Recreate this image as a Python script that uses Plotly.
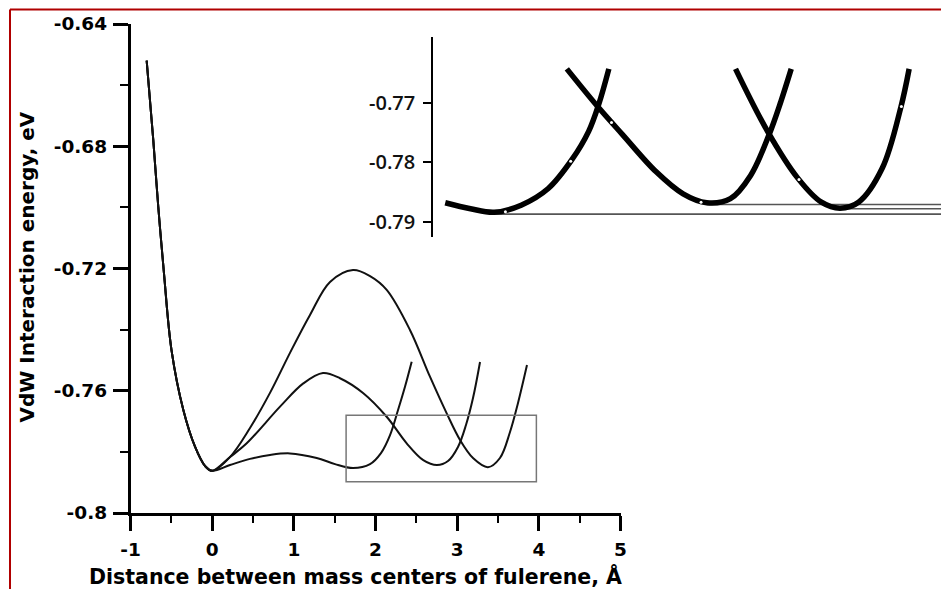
import plotly.graph_objects as go

# ---------------- main chart data ----------------
left_x = [-0.802, -0.721, -0.660, -0.590, -0.498, -0.353, -0.210, -0.088, 0.0]
left_y = [-0.6520, -0.6780, -0.6998, -0.7216, -0.7467, -0.7663, -0.7783, -0.7846, -0.7862]

a_x = [0.218, 0.463, 0.708, 0.953, 1.198, 1.443, 1.725, 1.933, 2.137, 2.422, 2.667, 2.872,
       3.035, 3.197, 3.377, 3.524, 3.647, 3.745, 3.855]
a_y = [-0.7817, -0.7722, -0.7607, -0.7476, -0.7352, -0.7244, -0.7205, -0.7225, -0.7270, -0.7401,
       -0.7554, -0.7674, -0.7761, -0.7821, -0.7850, -0.7820, -0.7735, -0.7640, -0.7516]

b_x = [0.218, 0.423, 0.831, 1.116, 1.357, 1.565, 1.851, 2.137, 2.382, 2.585, 2.753, 2.888,
       3.010, 3.108, 3.194, 3.280]
b_y = [-0.7817, -0.7772, -0.7652, -0.7576, -0.7542, -0.7559, -0.7608, -0.7685, -0.7772, -0.7827,
       -0.7843, -0.7830, -0.7784, -0.7712, -0.7624, -0.7506]

c_x = [0.218, 0.463, 0.708, 0.953, 1.280, 1.504, 1.725, 1.933, 2.067, 2.178, 2.276, 2.361, 2.443]
c_y = [-0.7843, -0.7823, -0.7810, -0.7805, -0.7820, -0.7840, -0.7853, -0.7840, -0.7804, -0.7745,
       -0.7663, -0.7587, -0.7505]

zoom_box_x = [1.64, 3.97]
zoom_box_y = [-0.7898, -0.7680]

x_tick_vals = [-1, 0, 1, 2, 3, 4, 5]
x_tick_text = ["-1", "0", "1", "2", "3", "4", "5"]
y_tick_vals = [-0.8, -0.76, -0.72, -0.68, -0.64]
y_tick_text = ["-0.8", "-0.76", "-0.72", "-0.68", "-0.64"]

# ---------------- inset data ----------------
inset_c_x = [1.468, 1.592, 1.708, 1.840, 1.973, 2.088, 2.171, 2.221, 2.270]
inset_c_y = [-0.7868, -0.7878, -0.7884, -0.7872, -0.7844, -0.7796, -0.7748, -0.7702, -0.7643]

inset_b_x = [2.064, 2.212, 2.336, 2.502, 2.634, 2.750, 2.866, 2.965, 3.056, 3.114, 3.164]
inset_b_y = [-0.7643, -0.7705, -0.7753, -0.7816, -0.7853, -0.7868, -0.7861, -0.7822, -0.7753,
             -0.7697, -0.7643]

inset_a_x = [2.891, 3.048, 3.197, 3.312, 3.403, 3.494, 3.610, 3.701, 3.742]
inset_a_y = [-0.7643, -0.7748, -0.7827, -0.7867, -0.7877, -0.7867, -0.7810, -0.7708, -0.7643]

inset_level_start = [1.708, 2.750, 3.403]
inset_level_y = [-0.7887, -0.7871, -0.7878]
inset_level_end = 4.3

inset_dot_x = [1.763, 2.083, 2.283, 2.722, 3.202, 3.704]
inset_dot_y = [-0.7883, -0.7798, -0.7733, -0.7867, -0.7829, -0.7706]

inset_tick_vals = [-0.79, -0.78, -0.77]
inset_tick_text = ["-0.79", "-0.78", "-0.77"]

# page body margin offsets the figure by 8px; figure sized to fill the rest of the window
OFF = 8
W, H = 949 - OFF, 589 - OFF


def px(xp):
    return (xp - OFF) / W


def py(yp):
    return 1 - (yp - OFF) / H


fig = go.Figure()

main_line = dict(color="#111111", width=2, shape="spline", smoothing=1.0)
for xs, ys in [(a_x, a_y), (b_x, b_y), (c_x, c_y)]:
    fig.add_trace(go.Scatter(x=left_x + xs, y=left_y + ys, mode="lines",
                             line=main_line, xaxis="x", yaxis="y",
                             showlegend=False, hoverinfo="skip"))

for x0, yv in zip(inset_level_start, inset_level_y):
    fig.add_trace(go.Scatter(x=[x0, inset_level_end], y=[yv, yv], mode="lines",
                             line=dict(color="#555555", width=1.6),
                             xaxis="x2", yaxis="y2", showlegend=False, hoverinfo="skip"))

inset_line = dict(color="black", width=5.5, shape="spline", smoothing=1.0)
for xs, ys in [(inset_c_x, inset_c_y), (inset_b_x, inset_b_y), (inset_a_x, inset_a_y)]:
    fig.add_trace(go.Scatter(x=xs, y=ys, mode="lines", line=inset_line,
                             xaxis="x2", yaxis="y2", showlegend=False, hoverinfo="skip"))

fig.add_trace(go.Scatter(x=inset_dot_x, y=inset_dot_y, mode="markers",
                         marker=dict(color="white", size=3),
                         xaxis="x2", yaxis="y2", showlegend=False, hoverinfo="skip"))

tickfont_main = dict(family="DejaVu Sans", size=18.5, color="black", weight="bold")

fig.update_layout(
    width=W, height=H,
    margin=dict(l=0, r=0, t=0, b=0, autoexpand=False),
    paper_bgcolor="white", plot_bgcolor="rgba(0,0,0,0)",
    xaxis=dict(domain=[px(130.5), px(620.5)], range=[-1, 5], anchor="y", automargin=False,
               showgrid=False, zeroline=False, showline=True, linecolor="black", linewidth=2.5,
               ticks="outside", ticklen=15, tickwidth=2.5, tickcolor="black",
               tickmode="array", tickvals=x_tick_vals, ticktext=x_tick_text,
               tickfont=tickfont_main, ticklabelstandoff=3,
               minor=dict(dtick=0.5, tick0=0, ticks="outside", ticklen=7, tickwidth=2,
                          tickcolor="black", showgrid=False)),
    yaxis=dict(domain=[py(513), py(24)], range=[-0.8, -0.64], anchor="x", automargin=False,
               showgrid=False, zeroline=False, showline=True, linecolor="black", linewidth=2.5,
               ticks="outside", ticklen=15, tickwidth=2.5, tickcolor="black",
               tickmode="array", tickvals=y_tick_vals, ticktext=y_tick_text,
               tickfont=tickfont_main, ticklabelstandoff=2,
               minor=dict(dtick=0.02, tick0=-0.8, ticks="outside", ticklen=8, tickwidth=2,
                          tickcolor="black", showgrid=False)),
    xaxis2=dict(domain=[px(433), 1.0], range=[1.408, 1.408 + (W + OFF - 433) / 204.0],
                anchor="y2", automargin=False, visible=False, showgrid=False, zeroline=False),
    yaxis2=dict(domain=[py(236.7), py(36.7)], range=[-0.7925, -0.75889], anchor="x2",
                automargin=False,
                showgrid=False, zeroline=False, showline=True, linecolor="black", linewidth=1.5,
                ticks="outside", ticklen=8, tickwidth=1.5, tickcolor="black",
                tickmode="array", tickvals=inset_tick_vals, ticktext=inset_tick_text,
                tickfont=dict(family="Open Sans", size=20, color="#111111", weight=600),
                ticklabelstandoff=4),
    shapes=[
        dict(type="rect", xref="x", yref="y", x0=zoom_box_x[0], x1=zoom_box_x[1],
             y0=zoom_box_y[0], y1=zoom_box_y[1], line=dict(color="#777777", width=1.5)),
        dict(type="line", xref="paper", yref="paper", x0=px(10), x1=1.0,
             y0=py(9.5), y1=py(9.5), line=dict(color="#b00000", width=2)),
        dict(type="line", xref="paper", yref="paper", x0=px(10), x1=px(10),
             y0=0.0, y1=py(9.5), line=dict(color="#b00000", width=2)),
    ],
    annotations=[
        dict(text="Distance between mass centers of fulerene, Å", xref="paper", yref="paper",
             x=px(355), y=py(576), xanchor="center", yanchor="middle", showarrow=False,
             font=dict(family="DejaVu Sans", size=20.5, color="black", weight="bold")),
        dict(text="VdW Interaction energy, eV", xref="paper", yref="paper",
             x=px(26), y=py(267.5), xanchor="center", yanchor="middle", showarrow=False,
             textangle=-90,
             font=dict(family="DejaVu Sans", size=20, color="black", weight="bold")),
    ],
)

fig.write_html("out.html")
